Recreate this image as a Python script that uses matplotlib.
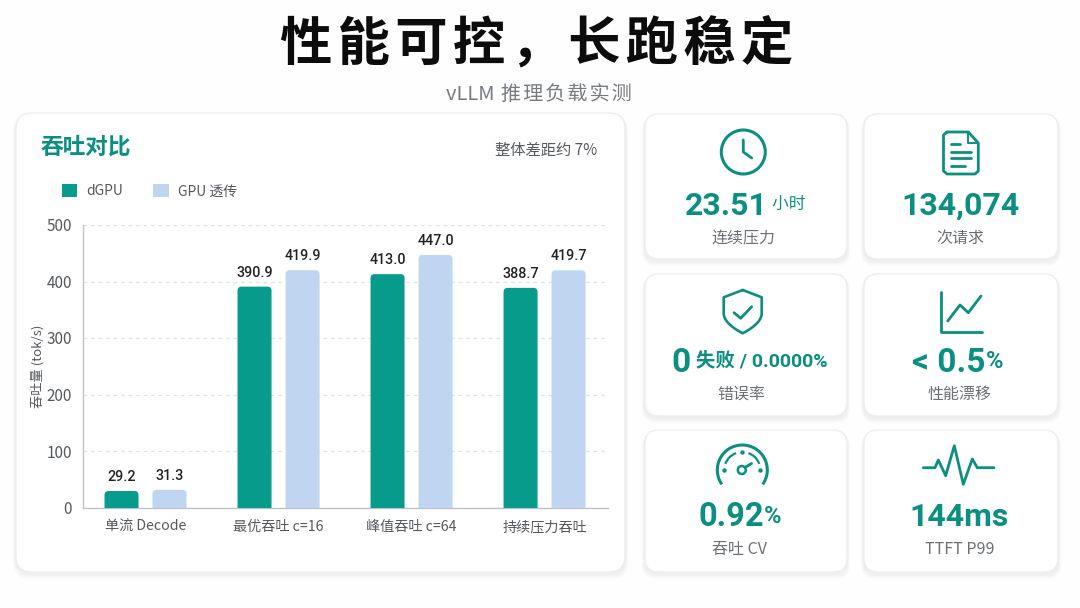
import numpy as np
from matplotlib import pyplot as plt
from matplotlib.patches import FancyBboxPatch, Circle, Arc, Patch

plt.rcParams['font.family'] = ['Noto Sans CJK SC', 'DejaVu Sans']

# Data
categories = ['单流 Decode', '最优吞吐 c=16', '峰值吞吐 c=64', '持续压力吞吐']
dgpu = [29.2, 390.9, 413.0, 388.7]
gpu_passthrough = [31.3, 419.9, 447.0, 419.7]
series_names = ['dGPU', 'GPU 透传']
y_ticks = [0, 100, 200, 300, 400, 500]

TEAL = '#0b8f80'
BAR_TEAL = '#069b8b'
BAR_BLUE = '#c0d5ef'
GREY = '#6c7075'
DIGITS = ['Roboto', 'Noto Sans CJK SC']
HS = '\u200a'

fig = plt.figure(figsize=(10.8, 6.08), dpi=100, facecolor='#fefefe')

# overlay in pixel coords for the cards, icons and headings
bg = fig.add_axes([0, 0, 1, 1], zorder=0)
bg.set_xlim(0, 1080)
bg.set_ylim(608, 0)
bg.axis('off')


def card(x0, y0, x1, y1, r=14):
    # soft shadow, then the white card
    for i in range(5):
        bg.add_patch(FancyBboxPatch((x0 - 1 - i * 0.5, y0 + 2), x1 - x0 + 2 + i, y1 - y0 + 1 + i,
                                    boxstyle='round,pad=0,rounding_size=%g' % r,
                                    fc='#5a6470', ec='none', alpha=0.016))
    bg.add_patch(FancyBboxPatch((x0, y0), x1 - x0, y1 - y0,
                                boxstyle='round,pad=0,rounding_size=%g' % r,
                                fc='white', ec='#eceef1', lw=1))


def runs(cx, cy, parts):
    # several text runs side by side, centred on cx
    r = fig.canvas.get_renderer()
    items = []
    for s, size, weight, fam in parts:
        t = bg.text(0, cy, s, fontsize=size, fontweight=weight, family=fam, color=TEAL,
                    ha='left', va='center_baseline')
        items.append(t)
    widths = [t.get_window_extent(r).width for t in items]
    x = cx - sum(widths) / 2
    for t, w in zip(items, widths):
        t.set_x(x)
        x += w


def line(xs, ys, lw=2.0):
    bg.plot(xs, ys, color=TEAL, lw=lw, solid_capstyle='round', solid_joinstyle='round')


card(16, 113, 625, 572, r=16)
col_x = [(645, 847), (864, 1058)]
row_y = [(114, 259), (274, 416), (430, 572)]
for y0, y1 in row_y:
    for x0, x1 in col_x:
        card(x0, y0, x1, y1)

# headings
bg.text(536.5, 44, HS.join('性能可控，长跑稳定'), fontsize=37.7, fontweight='black', color='#0c0c0c',
        ha='center', va='center')
bg.text(539, 94, 'vLLM 推理负载实测'.replace('推', HS + '推').replace('理', HS + '理').replace('负', HS + '负')
        .replace('载', HS + '载').replace('实', HS + '实').replace('测', HS + '测'),
        fontsize=14.5, color='#777b80', ha='center', va='center')
bg.text(41, 147.5, '吞吐对比', fontsize=16.3, fontweight='bold', color=TEAL, ha='left', va='center')
bg.text(597, 150.5, '整体差距约 7%', fontsize=11, color='#55595e', ha='right', va='center')

# KPI numbers
runs(745, 203, [('23.51', 23, 'bold', DIGITS), (' 小时', 12, 'medium', DIGITS)])
runs(961, 203, [('134,074', 23, 'bold', DIGITS)])
runs(749.5, 359, [('0', 24, 'bold', DIGITS), (' 失败 / 0.0000%', 14, 'bold', DIGITS)])
runs(958, 359, [('< 0.5', 24, 'bold', DIGITS), ('%', 17, 'bold', DIGITS)])
runs(740, 514, [('0.92', 23.5, 'bold', DIGITS), ('%', 17, 'bold', DIGITS)])
runs(959, 514, [('144ms', 23, 'bold', DIGITS)])

kpi_labels = ['连续压力', '次请求', '错误率', '性能漂移', '吞吐 CV', 'TTFT P99']
kpi_pos = [(743, 238.5), (960, 238.5), (741, 394.5), (960, 394.5), (739, 549.5), (960, 549.5)]
for s, (x, y) in zip(kpi_labels, kpi_pos):
    bg.text(x, y, s, fontsize=11.5, color=GREY, ha='center', va='center')

# clock icon
bg.add_patch(Circle((743.3, 152), 22, fc='none', ec=TEAL, lw=2.2))
line([743.3, 743.3, 751.7], [140, 152, 158])

# document icon
line([947, 968.3, 978.3, 978.3, 975, 947, 943.5, 943.5, 947], [132, 132, 143, 171, 174, 174, 171, 135, 132])
line([968.3, 968.3, 978.3], [132, 143, 143], lw=1.4)
line([950.7, 960], [144.3, 144.3])
line([950.7, 970.7], [151.7, 151.7])
line([950.7, 970.7], [158.3, 158.3])
line([950.7, 965], [165.7, 165.7])

# shield icon
t = np.linspace(0, 1, 12)
right_x = 761.7 - 19 * t ** 2
right_y = 313.3 + 20 * t
left_x = 2 * 742.7 - right_x
line(np.r_[742.7, 761.7, right_x, left_x[::-1], 723.7, 742.7],
     np.r_[290, 297.3, right_y, right_y[::-1], 297.3, 290], lw=1.9)
line([734, 740.7, 751.7], [312.7, 318.3, 306.7])

# trend icon
line([940.7, 940.7, 981.7], [292, 331.7, 331.7])
line([947.7, 960, 968.3, 981], [321, 305, 312.7, 296])

# gauge icon
bg.add_patch(Arc((742.3, 470), 50, 50, theta1=145, theta2=395, ec=TEAL, lw=2.2))
bg.add_patch(Arc((742.3, 470), 36, 36, theta1=200, theta2=250, ec=TEAL, lw=1.6))
bg.add_patch(Arc((742.3, 470), 36, 36, theta1=290, theta2=340, ec=TEAL, lw=1.6))
bg.plot([724.3, 760, 741.8], [470, 470, 452], 'o', color=TEAL, ms=2.2)
bg.add_patch(Circle((741.8, 470), 4, fc='none', ec=TEAL, lw=1.8))
line([745, 751.5], [467.5, 463.5])

# pulse icon
line([923.3, 935, 938.3, 945.7, 954.3, 963.3, 972.3, 977.3, 994],
     [467.7, 467.7, 460, 475.7, 445.7, 484.3, 459, 467.7, 467.7])

# chart
ax = fig.add_axes([83 / 1080, 1 - 507.5 / 608, (608 - 83) / 1080, 282.5 / 608], zorder=1)
ax.patch.set_alpha(0)
x_lo, x_hi = -0.47, 3.477
ax.set_xlim(x_lo, x_hi)
ax.set_ylim(0, 500)

bar_w = 34 / 133
offset = 24 / 133
aspect = (500 / 282.5) / ((x_hi - x_lo) / 525)
xs = np.arange(len(categories))
for vals, off, col in ((dgpu, -offset, BAR_TEAL), (gpu_passthrough, offset, BAR_BLUE)):
    for xi, v in zip(xs, vals):
        # bottom of the box runs under the axis so only the top corners show round
        ax.add_patch(FancyBboxPatch((xi + off - bar_w / 2, -20), bar_w, v + 20,
                                    boxstyle='round,pad=0,rounding_size=0.03',
                                    mutation_aspect=aspect, fc=col, ec='none', zorder=3))
        ax.annotate('%.1f' % v, (xi + off, v), xytext=(0, 5), textcoords='offset points',
                    ha='center', va='bottom', fontsize=10.3, fontweight='medium', color='#222222',
                    family=DIGITS)

ax.set_xticks(xs)
ax.set_xticklabels(categories, fontsize=10.2, color='#55595e')
ax.set_yticks(y_ticks)
ax.set_yticklabels(y_ticks, fontsize=11, color='#55595e')
ax.tick_params(length=0)
ax.tick_params(axis='x', pad=9)
ax.tick_params(axis='y', pad=8)
ax.set_ylabel('吞吐量 (tok/s)', fontsize=9.5, color='#55595e', labelpad=1)
ax.grid(axis='y', color='#dfe1e5', lw=0.9, ls=(0, (3, 3)), zorder=0)
for s in ('top', 'right'):
    ax.spines[s].set_visible(False)
for s in ('left', 'bottom'):
    ax.spines[s].set_color('#bfc3c8')
    ax.spines[s].set_linewidth(1.0)

ax.legend(handles=[Patch(fc=BAR_TEAL, label=series_names[0]), Patch(fc=BAR_BLUE, label=series_names[1])],
          loc='center left', bbox_to_anchor=(49 / 1080, 1 - 191 / 608), bbox_transform=fig.transFigure,
          ncol=2, frameon=False, fontsize=10, labelcolor='#55595e', handlelength=1.15, handleheight=1.15,
          handletextpad=0.6, columnspacing=2.2)

plt.savefig('out.png', dpi=100, facecolor=fig.get_facecolor())
